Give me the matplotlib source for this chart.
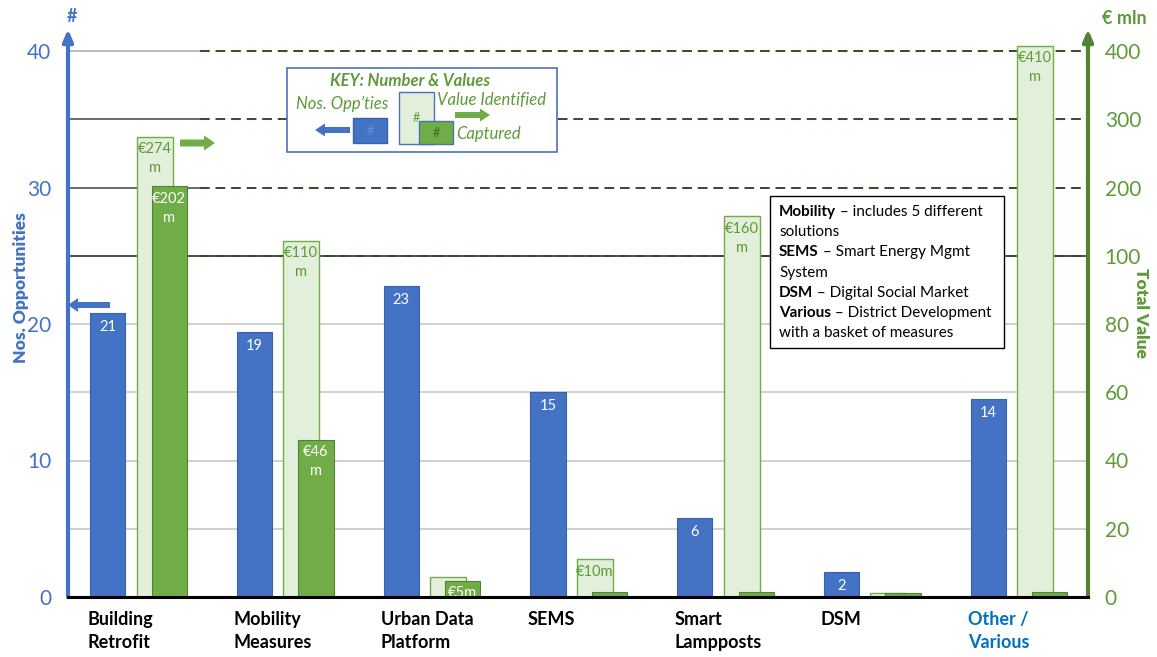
import numpy as np
import matplotlib
matplotlib.use('Agg')
import matplotlib.pyplot as plt
from matplotlib.patches import Rectangle, FancyArrow

plt.rcParams['font.family'] = ['Lato', 'DejaVu Sans']

# data
categories = ['Building\nRetrofit', 'Mobility\nMeasures', 'Urban Data\nPlatform', 'SEMS',
              'Smart\nLampposts', 'DSM', 'Other /\nVarious']
nos_opps = [20.8, 19.4, 22.8, 15.0, 5.8, 1.8, 14.5]          # count of opportunities
value_identified = [274, 122, 6, 11, 158, 1.2, 408]          # EUR mln
value_captured = [202, 46, 4.7, 1.5, 1.5, 1.2, 1.5]          # EUR mln
identified_labels = ['€274\nm', '€110\nm', '', '€10m', '€160\nm', '', '€410\nm']
captured_labels = ['€202\nm', '€46\nm', '€5m', '', '', '', '']
left_ticks = [0, 10, 20, 30, 40]
right_ticks = [0, 20, 40, 60, 80, 100, 200, 300, 400]

BLUE = '#4472C4'
GREEN = '#70AD47'
DKGREEN = '#548235'
LTGREEN = '#E2EFDA'
TXTGREEN = '#5E9A3A'


# right axis is broken: 0-100 over the first 25 units, then 100 per 5 units
def to_left(v):
    v = np.asarray(v, dtype=float)
    return np.where(v <= 100, v / 4.0, 25 + (v - 100) / 20.0)


def to_right(y):
    y = np.asarray(y, dtype=float)
    return np.where(y <= 25, y * 4.0, 100 + (y - 25) * 20.0)


fig = plt.figure(figsize=(11.57, 6.57), dpi=100)
ax = fig.add_axes([68 / 1157, 1 - 597 / 657, 1020 / 1157, 41.6 * 13.65 / 657])
x = np.arange(len(categories))
ax.set_xlim(-0.27, 6.68)
ax.set_ylim(0, 41.6)

# gridlines
for g in [5, 10, 15, 20]:
    ax.axhline(g, color='#c8c8c8', lw=1.2, zorder=0)
ax.axhline(25, color='#303030', lw=1.2, zorder=0)
for g, c in [(30, '#505050'), (35, '#505050'), (40, '#b0b0b0')]:
    ax.plot([-0.27, 0.63], [g, g], color=c, lw=1.2, zorder=0)
for g in [25, 30, 35, 40]:
    ax.plot([0.63, 6.68], [g, g], color='#2E5020', lw=1.4, ls=(0, (5, 3)), zorder=0.5)

# bars
ax.bar(x, nos_opps, width=0.24, color=BLUE, edgecolor='#3A62A8', lw=0.8, zorder=2)
ax.bar(x + 0.32, to_left(value_identified), width=0.245, color=LTGREEN, edgecolor=GREEN, lw=1.0, zorder=2)
ax.bar(x + 0.42, to_left(value_captured), width=0.24, color=GREEN, edgecolor=DKGREEN, lw=0.8, zorder=3)

for i, n in enumerate(nos_opps):
    ax.text(x[i], n - 0.5, str(int(round(n))), color='white', ha='center', va='top', fontsize=10.5, zorder=4)
for i, lab in enumerate(identified_labels):
    if lab:
        ax.text(x[i] + 0.32, to_left(value_identified[i]) - 0.4, lab, color=TXTGREEN, ha='center', va='top',
                fontsize=10.5, linespacing=1.45, zorder=4)
for i, lab in enumerate(captured_labels):
    if lab:
        ax.text(x[i] + 0.42, to_left(value_captured[i]) - 0.4, lab, color='white', ha='center', va='top',
                fontsize=10.5, linespacing=1.45, zorder=4)

# axes styling
for s in ['left', 'right', 'top']:
    ax.spines[s].set_visible(False)
ax.spines['bottom'].set_color('black')
ax.spines['bottom'].set_linewidth(2.2)
ax.spines['bottom'].set_zorder(5)
ax.set_xticks([])
ax.set_yticks(left_ticks)
ax.tick_params(axis='y', length=0, pad=12, labelsize=15, labelcolor=BLUE)

sec = ax.secondary_yaxis('right', functions=(to_right, to_left))
sec.set_yticks(right_ticks)
sec.tick_params(length=0, pad=12, labelsize=15, labelcolor=TXTGREEN)
sec.spines['right'].set_visible(False)

# axis arrows
ax.annotate('', xy=(-0.27, 41.6), xytext=(-0.27, 0), annotation_clip=False,
            arrowprops=dict(arrowstyle='-|>,head_width=0.3,head_length=0.7', color=BLUE, lw=3, shrinkA=0, shrinkB=0))
ax.annotate('', xy=(6.68, 41.6), xytext=(6.68, 0), annotation_clip=False,
            arrowprops=dict(arrowstyle='-|>,head_width=0.3,head_length=0.7', color=DKGREEN, lw=3, shrinkA=0, shrinkB=0))

# category labels
for i, c in enumerate(categories):
    col = '#0070C0' if c.startswith('Other') else 'black'
    ax.text(x[i] - 0.14, -1.0, c, color=col, ha='left', va='top', fontsize=13, fontweight='bold',
            linespacing=1.45, transform=ax.transData)

# overlay in pixel coordinates for axis titles, key, notes and arrows
ov = fig.add_axes([0, 0, 1, 1], zorder=10)
ov.set_xlim(0, 1157)
ov.set_ylim(657, 0)
ov.axis('off')
ov.patch.set_alpha(0)

ov.text(21, 288, 'Nos. Opportunities', color=BLUE, fontsize=12.5, fontweight='heavy', rotation=90,
        ha='center', va='center')
ov.text(1141, 313, 'Total Value', color=TXTGREEN, fontsize=12.5, fontweight='heavy', rotation=270,
        ha='center', va='center')
ov.text(72, 16, '#', color=BLUE, fontsize=13, fontweight='bold', ha='center', va='center')
ov.text(1124, 19, '€ mln', color=TXTGREEN, fontsize=13, fontweight='bold', ha='center', va='center')

ov.add_patch(FancyArrow(110, 305, -32, 0, width=6, head_width=14, head_length=10, color=BLUE, lw=0))
ov.add_patch(FancyArrow(180, 143, 24, 0, width=7, head_width=15, head_length=11, color=GREEN, lw=0))

# key box
ov.add_patch(Rectangle((287, 68), 270, 84, facecolor='white', edgecolor='#4A72B8', lw=1.2))
ov.text(410, 81, 'KEY: Number & Values', color=TXTGREEN, fontsize=12, fontweight='bold', style='italic',
        ha='center', va='center')
ov.text(342, 104, 'Nos. Opp\u2019ties', color=TXTGREEN, fontsize=12, style='italic', ha='center', va='center')
ov.add_patch(FancyArrow(350, 130, -25, 0, width=6, head_width=13, head_length=10, color=BLUE, lw=0))
ov.add_patch(Rectangle((353, 118), 34, 25, facecolor=BLUE, edgecolor='#3A62A8', lw=1))
ov.text(370, 131, '#', color='#6A8FCF', fontsize=9, ha='center', va='center')
ov.add_patch(Rectangle((399, 92), 35, 52, facecolor=LTGREEN, edgecolor='#4A72B8', lw=1))
ov.text(416, 118, '#', color=TXTGREEN, fontsize=9, ha='center', va='center')
ov.add_patch(Rectangle((419, 121), 34, 23, facecolor=GREEN, edgecolor='#4A72B8', lw=1))
ov.text(436, 133, '#', color='#3E6B26', fontsize=9, ha='center', va='center')
ov.text(437, 100, 'Value Identified', color=TXTGREEN, fontsize=12, style='italic', ha='left', va='center')
ov.add_patch(FancyArrow(455, 115, 25, 0, width=6, head_width=13, head_length=10, color=GREEN, lw=0))
ov.text(456, 134, 'Captured', color=TXTGREEN, fontsize=12, style='italic', ha='left', va='center')

# notes box
ov.add_patch(Rectangle((770, 196), 234, 152, facecolor='white', edgecolor='black', lw=1.0))
notes = [('Mobility', ' \u2013 includes 5 different'), ('', 'solutions'),
         ('SEMS', ' \u2013 Smart Energy Mgmt'), ('', 'System'),
         ('DSM', ' \u2013 Digital Social Market'),
         ('Various', ' \u2013 District Development'), ('', 'with a basket of measures')]
for k, (b, t) in enumerate(notes):
    yy = 212 + k * 20.2
    bt = ov.text(779, yy, b, color='black', fontsize=11, fontweight='bold', ha='left', va='center')
    if b:
        ov.annotate(t, xy=(1, 0.5), xycoords=bt, va='center', ha='left', fontsize=11, color='black')
    else:
        ov.text(779, yy, t, color='black', fontsize=11, ha='left', va='center')

fig.savefig('out.png', dpi=100)
